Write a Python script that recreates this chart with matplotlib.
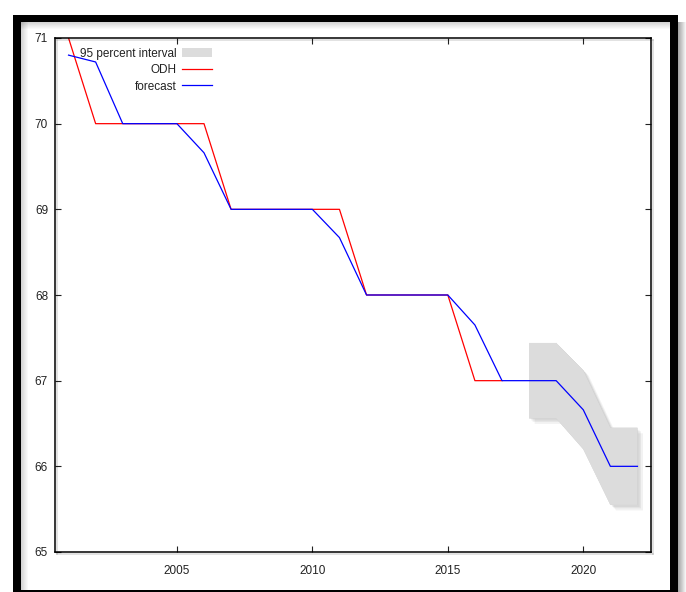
import matplotlib
matplotlib.use('Agg')
import matplotlib.pyplot as plt
import matplotlib.patheffects as pe
from matplotlib.patches import Rectangle, Patch
from matplotlib.lines import Line2D

plt.rcParams['font.family'] = ['Liberation Sans', 'DejaVu Sans']

odh_years = list(range(2001, 2018))
odh = [71, 70, 70, 70, 70, 70, 69, 69, 69, 69, 69, 68, 68, 68, 68, 67, 67]

fc_years = list(range(2001, 2023))
forecast = [70.8, 70.72, 70, 70, 70, 69.66, 69, 69, 69, 69, 68.67,
            68, 68, 68, 68, 67.65, 67, 67, 67, 66.66, 66, 66]

band_years = [2018, 2019, 2020, 2021, 2022]
band_lo = [66.56, 66.56, 66.2, 65.55, 65.55]
band_hi = [67.44, 67.44, 67.12, 66.45, 66.45]

W, H = 686, 592
fig = plt.figure(figsize=(W / 100, H / 100), dpi=100)
fig.patch.set_facecolor('white')

# pixel-space overlay for the frame and its shading
bg = fig.add_axes([0, 0, 1, 1], zorder=0)
bg.set_xlim(0, W)
bg.set_ylim(H, 0)
bg.axis('off')


def px_rect(x0, y0, x1, y1, color, alpha=1.0):
    bg.add_patch(Rectangle((x0, y0), x1 - x0, y1 - y0, color=color,
                           alpha=alpha, lw=0))


# soft shading inside the frame and to its right
for i in range(7):
    a = 0.28 * (1 - i / 7)
    px_rect(21, 22 + i, 670, 23 + i, 'black', a * 0.6)
    px_rect(21 + i, 22, 22 + i, H, 'black', a * 0.6)
for i in range(8):
    a = 0.35 * (1 - i / 8)
    px_rect(678 + i, 22, 679 + i, H, 'black', a)
# thick black frame
px_rect(13, 15, 678, 22, 'black')
px_rect(13, 15, 21, H + 5, 'black')
px_rect(670, 15, 678, H + 5, 'black')
px_rect(13, 590, 678, H + 5, 'black')

ax = fig.add_axes([55 / W, 1 - 552 / H, (651 - 55) / W, (552 - 38) / H], zorder=2)
ax.set_facecolor('white')

# blurred-looking drop shadow under the interval band
shadow = [pe.withSimplePatchShadow(offset=(4, -4), shadow_rgbFace='black', alpha=0.05),
          pe.withSimplePatchShadow(offset=(2.5, -2.5), shadow_rgbFace='black', alpha=0.06),
          pe.withSimplePatchShadow(offset=(1.5, -1.5), shadow_rgbFace='black', alpha=0.05)]
band = ax.fill_between(band_years, band_lo, band_hi, color='#dcdcdc', lw=0)
band.set_path_effects(shadow)
ax.plot(odh_years, odh, color='red', lw=0.9)
ax.plot(fc_years, forecast, color='blue', lw=0.9)

ax.set_xlim(2000.5, 2022.5)
ax.set_ylim(65, 71)
ax.set_xticks([2005, 2010, 2015, 2020])
ax.set_yticks([65, 66, 67, 68, 69, 70, 71])
ax.tick_params(direction='in', length=4, width=0.8, top=True, right=True,
               labelsize=8.5, colors='#222222')
ax.tick_params(axis='x', pad=9)
ax.tick_params(axis='y', pad=5)
for sp in ax.spines.values():
    sp.set_linewidth(1.1)
    sp.set_path_effects([pe.SimpleLineShadow(offset=(1.5, -1.5), alpha=0.15), pe.Normal()])

handles = [Patch(facecolor='#dcdcdc', edgecolor='none'),
           Line2D([], [], color='red', lw=0.9),
           Line2D([], [], color='blue', lw=0.9)]
labels = ['95 percent interval', 'ODH', 'forecast']
leg = ax.legend(handles, labels, loc='upper left', markerfirst=False,
                frameon=False, fontsize=8.5, handlelength=2.5,
                handleheight=0.9, labelspacing=0.38, handletextpad=0.5,
                borderaxespad=0.2, bbox_to_anchor=(0.03, 0.995))
for t in leg.get_texts():
    t.set_color('#222222')

fig.savefig('out.png', dpi=100)
